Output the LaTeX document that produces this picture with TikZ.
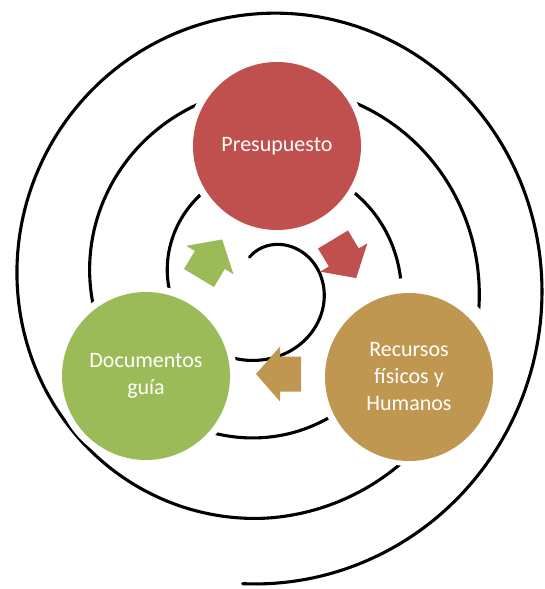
\documentclass[tikz,border=0pt]{standalone}
\usepackage{fontspec}
\setmainfont{Carlito}
\definecolor{redc}{RGB}{192,80,77}
\definecolor{greenc}{RGB}{155,187,89}
\definecolor{brownc}{RGB}{191,151,80}
\tikzset{
  spiral/.style={line width=3.1pt, black, line cap=round},
  mask/.style={fill=white},
  bubble/.style={circle, minimum size=168pt, inner sep=0pt, text=white,
    align=center, font=\fontsize{22}{27}\selectfont},
  blockarrow/.pic={\fill[pic actions] (0,-17.5) -- (21,-17.5) -- (21,-27.5) -- (45,0)
      -- (21,27.5) -- (21,17.5) -- (0,17.5) -- cycle;}
}
\begin{document}
\begin{tikzpicture}[x=1pt,y=-1pt,
  declare function={rr(\t)=38.5+12.41*\t-3.2*max(0,\t-15.708);
                    sy(\t)=1+0.012*max(0,\t-12.566)/3.1416;}]
\useasboundingbox (0,0) rectangle (545,589);
% spiral
\draw[spiral] plot[domain=-0.5:22.07, samples=450, smooth, variable=\t]
  ({265+rr(\t)*sin(\t r)}, {282-rr(\t)*sy(\t)*cos(\t r)+3*max(0,1-\t/3.1416)});
% white gaps around the circles
\fill[mask] (277,146) circle[radius=91pt];
\fill[mask] (146,376) circle[radius=91pt];
\fill[mask] (410,372) circle[radius=94pt];
% circles
\node[bubble, fill=redc] (pres) at (277,146) {Presupuesto};
\node[bubble, fill=greenc] (docs) at (146,376) {Documentos\\guía};
\node[bubble, fill=brownc] (recs) at (409,377) {Recursos\\físicos y\\Humanos};
% block arrows
\coordinate (ared) at (333,239.5);
\coordinate (abrown) at (301,374);
\coordinate (agreen) at (199,278);
\pic[fill=redc, rotate=-59] at (ared) {blockarrow};
\pic[fill=brownc, rotate=180] at (abrown) {blockarrow};
\pic[fill=greenc, rotate=59] at (agreen) {blockarrow};
\end{tikzpicture}
\end{document}
